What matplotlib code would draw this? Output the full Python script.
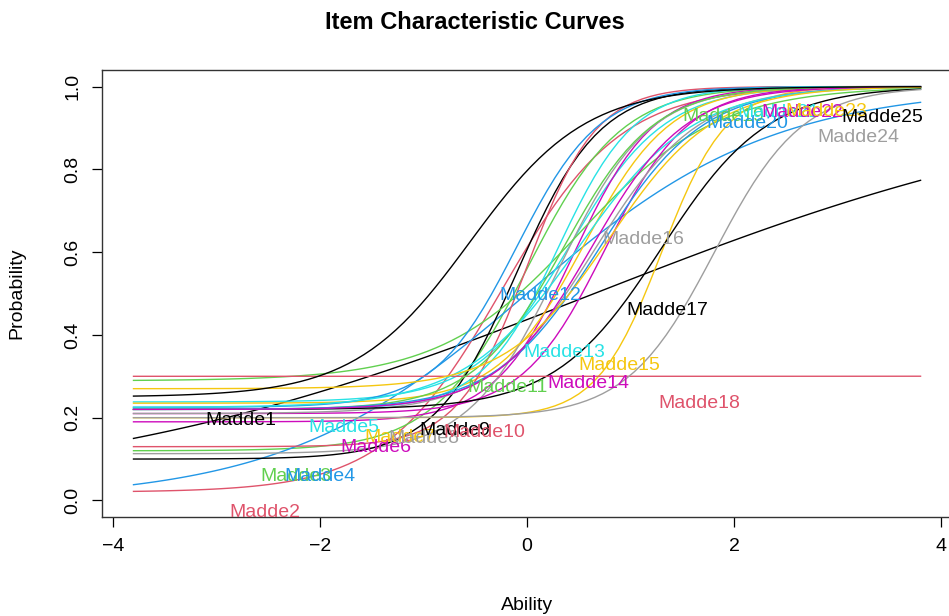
import numpy as np
import matplotlib
matplotlib.use("Agg")
import matplotlib.pyplot as plt

plt.rcParams['font.family'] = ['Liberation Sans', 'DejaVu Sans']

# 3PL item parameters: guessing (c), discrimination (a), difficulty (b)
items = ["Madde%d" % i for i in range(1, 26)]
guess = [0.00, 0.02, 0.12, 0.00, 0.238, 0.19, 0.235, 0.113, 0.10, 0.13,
         0.289, 0.225, 0.22, 0.21, 0.20, 0.21, 0.22, 0.30, 0.22, 0.22,
         0.225, 0.22, 0.27, 0.20, 0.25]
discr = [0.39, 1.75, 2.2, 0.85, 2.2, 2.6, 2.4, 2.3, 2.5, 3.0,
         1.5, 2.5, 2.7, 2.5, 3.2, 2.0, 1.95, 1.0, 2.3, 2.0,
         1.8, 2.2, 2.0, 2.36, 1.8]
diffic = [0.65, -0.24, 0.0, 0.0, 0.42, 0.45, 0.55, 0.3, -0.1, 0.0,
          0.5, -0.1, 0.3, 0.75, 1.3, 0.65, 1.3, 12.0, 0.35, 0.7,
          0.5, 0.62, 0.8, 1.81, -0.55]

# heights where each item name is written
label_y = [0.194, -0.03, 0.058, 0.058, 0.177, 0.128, 0.153, 0.15, 0.17, 0.165,
           0.274, 0.496, 0.358, 0.283, 0.327, 0.63, 0.46, 0.235, 0.927, 0.91,
           0.937, 0.937, 0.94, 0.877, 0.925]

# default R palette, recycled over the items
pal = ["#000000", "#DF536B", "#61D04F", "#2297E6",
       "#28E2E5", "#CD0BBC", "#F5C710", "#9E9E9E"]

z = np.linspace(-3.8, 3.8, 100)
pos = np.round(np.linspace(10, 90, len(items))).astype(int) - 1

def icc(c, a, b, x):
    return c + (1 - c) / (1 + np.exp(-a * (x - b)))

fig = plt.figure(figsize=(9.49, 6.16), dpi=100)
ax = fig.add_axes([0.1075, 0.1607, 0.8957, 0.7256])

for i, name in enumerate(items):
    col = pal[i % len(pal)]
    ax.plot(z, icc(guess[i], discr[i], diffic[i], z), color=col, lw=1.0)
    ax.text(z[pos[i]], label_y[i], name, color=col, fontsize=14,
            ha='left', va='center')

ax.set_xlim(-4.104, 4.104)
ax.set_ylim(-0.04, 1.04)
ax.set_xticks([-4, -2, 0, 2, 4])
ax.set_yticks([0.0, 0.2, 0.4, 0.6, 0.8, 1.0])
ax.set_yticklabels(["0.0", "0.2", "0.4", "0.6", "0.8", "1.0"], rotation=90, va='center')
ax.tick_params(direction='out', length=7, width=0.9, labelsize=14, pad=8)
for s in ax.spines.values():
    s.set_linewidth(1.0)
    s.set_color("#333333")

ax.set_xlabel("Ability", fontsize=14)
ax.set_ylabel("Probability", fontsize=14)
ax.xaxis.set_label_coords(0.5, -0.178)
ax.yaxis.set_label_coords(-0.09, 0.5)
fig.text(0.5, 0.964, "Item Characteristic Curves", ha='center', va='center',
         fontsize=17, fontweight='bold')

fig.savefig("out.png", dpi=100)
